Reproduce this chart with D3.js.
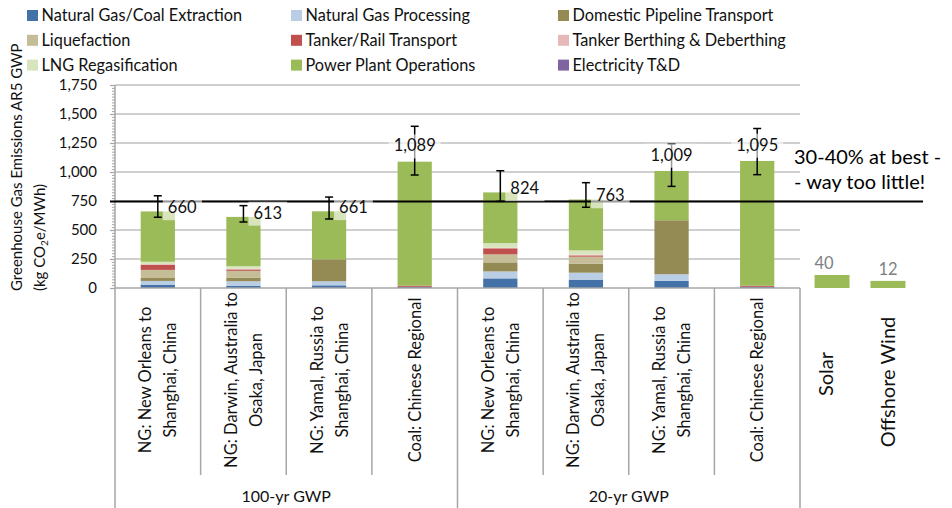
<!DOCTYPE html>
<html>
<head>
<meta charset="utf-8">
<script src="https://cdn.jsdelivr.net/npm/d3@7/dist/d3.min.js"></script>
<style>
  body { margin: 0; background: #fff; }
  svg { display: block; font-family: Lato, "Open Sans", sans-serif; }
</style>
</head>
<body>
<div id="container"></div>
<script>
// ---------------------------- DATA ----------------------------//
var categoryLines = [
    ["NG: New Orleans to", "Shanghai, China"],
    ["NG: Darwin, Australia to", "Osaka, Japan"],
    ["NG: Yamal, Russia to", "Shanghai, China"],
    ["Coal: Chinese Regional"],
    ["NG: New Orleans to", "Shanghai, China"],
    ["NG: Darwin, Australia to", "Osaka, Japan"],
    ["NG: Yamal, Russia to", "Shanghai, China"],
    ["Coal: Chinese Regional"]
];
var groupNames = ["100-yr GWP", "20-yr GWP"];

var seriesNames = ["Natural Gas/Coal Extraction", "Natural Gas Processing", "Domestic Pipeline Transport",
    "Liquefaction", "Tanker/Rail Transport", "Tanker Berthing & Deberthing",
    "LNG Regasification", "Power Plant Operations", "Electricity T&D"];
var seriesColors = ["#4472a8", "#b9cde5", "#948a54", "#c4bd97", "#c0504d", "#e6b9b8", "#d7e4bd", "#9bbb59", "#8064a2"];

var extraction   = [29, 20, 23, 10, 83, 72, 61, 10];
var processing   = [32, 38, 35, 0, 60, 60, 58, 0];
var pipeline     = [25, 29, 189, 0, 78, 78, 465, 0];
var liquefaction = [70, 61, 0, 0, 69, 60, 0, 0];
var tankerRail   = [44, 12, 0, 10, 52, 11, 0, 10];
var berthing     = [6, 6, 0, 0, 5, 6, 0, 0];
var regas        = [20, 23, 0, 0, 40, 37, 0, 0];
var powerPlant   = [434, 424, 414, 1069, 437, 439, 425, 1075];
var electricity  = [0, 0, 0, 0, 0, 0, 0, 0];

var errLow  = [610, 569, 595, 974, 747, 696, 876, 977];
var errHigh = [795, 710, 784, 1394, 1011, 908, 1241, 1375];

var renewNames = ["Solar", "Offshore Wind"];
var renewValues = [40, 12];

var refLine = 745;
var yTicks = [0, 250, 500, 750, 1000, 1250, 1500, 1750];

// ---------------------------- SETUP ----------------------------//
var width = 952, height = 508;
var plotLeft = 115, plotRight = 800, plotTop = 85, plotBottom = 288;

var svg = d3.select("div#container").append("svg")
    .attr("width", width)
    .attr("height", height);

var allSeries = [extraction, processing, pipeline, liquefaction, tankerRail, berthing, regas, powerPlant, electricity];
var rows = categoryLines.map(function (c, i) {
    var r = { idx: i };
    seriesNames.forEach(function (s, j) { r[s] = allSeries[j][i]; });
    return r;
});
var totals = rows.map(function (r) { return d3.sum(seriesNames, function (s) { return r[s]; }); });

var x = d3.scaleBand()
    .domain(d3.range(categoryLines.length))
    .range([plotLeft, plotRight])
    .paddingInner(0.6)
    .paddingOuter(0.3);

var y = d3.scaleLinear().domain([0, 1750]).range([plotBottom, plotTop]);

// renewables drawn on their own (square root) scale to the right of the plot
var xr = d3.scaleBand().domain(renewNames).range([800, 920]).paddingInner(0.375).paddingOuter(0.26);
var yr = d3.scaleSqrt().domain([0, 1750]).range([plotBottom, plotBottom - 86]);

// ---------------------------- LEGEND ----------------------------//
var legendX = [27, 291, 558];
var legend = svg.append("g").selectAll("g")
    .data(seriesNames)
    .enter().append("g")
    .attr("transform", function (d, i) {
        return "translate(" + legendX[i % 3] + "," + (15.5 + Math.floor(i / 3) * 24.8) + ")";
    });
legend.append("rect")
    .attr("x", 0).attr("y", -5.5)
    .attr("width", 11).attr("height", 11)
    .attr("fill", function (d, i) { return seriesColors[i]; });
legend.append("text")
    .attr("x", 14.5)
    .attr("dy", "0.36em")
    .style("font-size", "16.3px")
    .style("fill", "#111")
    .text(function (d) { return d; });

// ---------------------------- GRID ----------------------------//
svg.append("g").selectAll("line")
    .data(yTicks.filter(function (t) { return t > 0; }))
    .enter().append("line")
    .attr("x1", plotLeft).attr("x2", plotRight)
    .attr("y1", function (d) { return y(d); })
    .attr("y2", function (d) { return y(d); })
    .attr("stroke", "#bfbfbf")
    .attr("stroke-width", 1.5);

// ---------------------------- BARS ----------------------------//
var stack = d3.stack().keys(seriesNames);
var stacked = stack(rows);

svg.append("g").selectAll("g")
    .data(stacked)
    .enter().append("g")
    .attr("fill", function (d, i) { return seriesColors[i]; })
    .selectAll("rect")
    .data(function (d) { return d; })
    .enter().append("rect")
    .attr("x", function (d) { return x(d.data.idx); })
    .attr("width", x.bandwidth())
    .attr("y", function (d) { return y(d[1]); })
    .attr("height", function (d) { return y(d[0]) - y(d[1]); });

// renewables
svg.append("g").selectAll("rect")
    .data(renewValues)
    .enter().append("rect")
    .attr("x", function (d, i) { return xr(renewNames[i]); })
    .attr("width", xr.bandwidth())
    .attr("y", function (d) { return yr(d); })
    .attr("height", function (d) { return plotBottom - yr(d); })
    .attr("fill", "#9bbb59");

svg.append("g").selectAll("text")
    .data(renewValues)
    .enter().append("text")
    .attr("x", function (d, i) { return xr(renewNames[i]) + xr.bandwidth() / 2 - (i == 0 ? 8 : 0); })
    .attr("y", function (d) { return yr(d) - 6; })
    .style("text-anchor", "middle")
    .style("font-size", "16.5px")
    .style("fill", "#7f7f7f")
    .text(function (d) { return d; });

// ---------------------------- AXES ----------------------------//
// x axis baseline
svg.append("line")
    .attr("x1", plotLeft).attr("x2", plotRight)
    .attr("y1", plotBottom).attr("y2", plotBottom)
    .attr("stroke", "#a6a6a6").attr("stroke-width", 1.5);

// category separators
svg.append("g").selectAll("line")
    .data(d3.range(1, categoryLines.length).filter(function (i) { return i != 4; }))
    .enter().append("line")
    .attr("x1", function (i) { return x(i) - x.step() * x.paddingInner() / 2; })
    .attr("x2", function (i) { return x(i) - x.step() * x.paddingInner() / 2; })
    .attr("y1", plotBottom).attr("y2", 475)
    .attr("stroke", "#a6a6a6").attr("stroke-width", 1.5);

// group separators
svg.append("g").selectAll("line")
    .data([0, 4, 8])
    .enter().append("line")
    .attr("x1", function (i) { return plotLeft + i * x.step(); })
    .attr("x2", function (i) { return plotLeft + i * x.step(); })
    .attr("y1", function (i) { return i == 0 ? plotTop : plotBottom; })
    .attr("y2", height)
    .attr("stroke", "#a6a6a6").attr("stroke-width", 1.5);

// minor ticks
svg.append("g")
    .attr("transform", "translate(" + plotLeft + ",0)")
    .call(d3.axisLeft(y).tickValues(d3.range(0, 1751, 25)).tickSize(3).tickFormat(""))
    .call(function (g) { g.select(".domain").remove(); })
    .selectAll("line").attr("stroke", "#a6a6a6");

// major ticks + labels
var yAxis = svg.append("g")
    .attr("transform", "translate(" + plotLeft + ",0)")
    .call(d3.axisLeft(y).tickValues(yTicks).tickSize(5).tickPadding(13).tickFormat(d3.format(",")));
yAxis.select(".domain").remove();
yAxis.selectAll("line").attr("stroke", "#a6a6a6").attr("stroke-width", 1.2);
yAxis.selectAll("text")
    .style("font-size", "15px")
    .style("font-family", "Lato, sans-serif")
    .style("fill", "#111");

// y title
var yTitle = svg.append("text")
    .attr("transform", "translate(22,291) rotate(-90)")
    .style("font-size", "15px")
    .style("fill", "#111");
yTitle.append("tspan").attr("x", 0).attr("y", 0).text("Greenhouse Gas Emissions AR5 GWP");
yTitle.append("tspan").attr("x", 0).attr("y", 23).text("(kg CO");
yTitle.append("tspan").attr("dy", 3).style("font-size", "10px").text("2");
yTitle.append("tspan").attr("dy", -3).text("e/MWh)");

// category labels
var catLabel = svg.append("g").selectAll("text")
    .data(categoryLines)
    .enter().append("text")
    .attr("transform", function (d, i) {
        return "translate(" + (x(i) + x.bandwidth() / 2) + ",380) rotate(-90)";
    })
    .style("text-anchor", "middle")
    .style("font-size", "16.5px")
    .style("fill", "#111");
catLabel.selectAll("tspan")
    .data(function (d) {
        return d.map(function (line, k) { return { line: line, k: k, n: d.length }; });
    })
    .enter().append("tspan")
    .attr("x", 0)
    .attr("y", function (d) { return (d.k - (d.n - 1) / 2) * 25 + 6; })
    .text(function (d) { return d.line; });

// renewable labels
svg.append("g").selectAll("text")
    .data(renewNames)
    .enter().append("text")
    .attr("transform", function (d, i) {
        return "translate(" + (xr(d) + xr.bandwidth() / 2 + (i == 0 ? 1 : 7)) + "," + (i == 0 ? 374 : 382) + ") rotate(-90)";
    })
    .style("text-anchor", "middle")
    .style("font-size", "20px")
    .style("fill", "#111")
    .text(function (d) { return d; });

// group labels
svg.append("g").selectAll("text")
    .data(groupNames)
    .enter().append("text")
    .attr("x", function (d, i) { return plotLeft + (i * 4 + 2) * x.step(); })
    .attr("y", 502)
    .style("text-anchor", "middle")
    .style("font-size", "16px")
    .style("fill", "#111")
    .text(function (d) { return d; });

// ---------------------------- REFERENCE LINE ----------------------------//
svg.append("line")
    .attr("x1", 110).attr("x2", 923)
    .attr("y1", y(refLine)).attr("y2", y(refLine))
    .attr("stroke", "#000").attr("stroke-width", 2);

var note = svg.append("text")
    .attr("x", 794)
    .attr("y", y(refLine) - 38)
    .style("font-size", "20px")
    .style("fill", "#000");
note.append("tspan").attr("x", 794).text("30-40% at best -");
note.append("tspan").attr("x", 794).attr("dy", 25).text("- way too little!");

// ---------------------------- ERROR BARS ----------------------------//
var err = svg.append("g").selectAll("g")
    .data(errLow)
    .enter().append("g")
    .attr("stroke", "#000")
    .attr("stroke-width", 1.5);
err.append("line")
    .attr("x1", function (d, i) { return x(i) + x.bandwidth() / 2; })
    .attr("x2", function (d, i) { return x(i) + x.bandwidth() / 2; })
    .attr("y1", function (d) { return y(d); })
    .attr("y2", function (d, i) { return y(errHigh[i]); });
err.append("line")
    .attr("x1", function (d, i) { return x(i) + x.bandwidth() / 2 - 4; })
    .attr("x2", function (d, i) { return x(i) + x.bandwidth() / 2 + 4; })
    .attr("y1", function (d) { return y(d); })
    .attr("y2", function (d) { return y(d); });
err.append("line")
    .attr("x1", function (d, i) { return x(i) + x.bandwidth() / 2 - 4; })
    .attr("x2", function (d, i) { return x(i) + x.bandwidth() / 2 + 4; })
    .attr("y1", function (d, i) { return y(errHigh[i]); })
    .attr("y2", function (d, i) { return y(errHigh[i]); });

// ---------------------------- TOTAL LABELS ----------------------------//
var fmt = d3.format(",");
var lab = svg.append("g").selectAll("g")
    .data(totals)
    .enter().append("g")
    .attr("transform", function (d, i) {
        var big = d >= 1000;
        var lx = big ? x(i) + x.bandwidth() / 2 : x(i) + x.bandwidth() / 2 + 10;
        var ly = big ? y(d) - 16 : y(d) - 4;
        return "translate(" + lx + "," + ly + ")";
    });
lab.append("rect")
    .attr("fill", "#fff")
    .attr("fill-opacity", 0.6);
lab.append("text")
    .attr("dy", "0.35em")
    .style("text-anchor", function (d) { return d >= 1000 ? "middle" : "start"; })
    .style("font-size", "16.5px")
    .style("fill", "#111")
    .text(function (d) { return fmt(d); });
lab.each(function () {
    var g = d3.select(this);
    var bb = g.select("text").node().getBBox();
    g.select("rect")
        .attr("x", bb.x - 5).attr("y", bb.y - 1)
        .attr("width", bb.width + 10).attr("height", bb.height + 4);
});
</script>
</body>
</html>
